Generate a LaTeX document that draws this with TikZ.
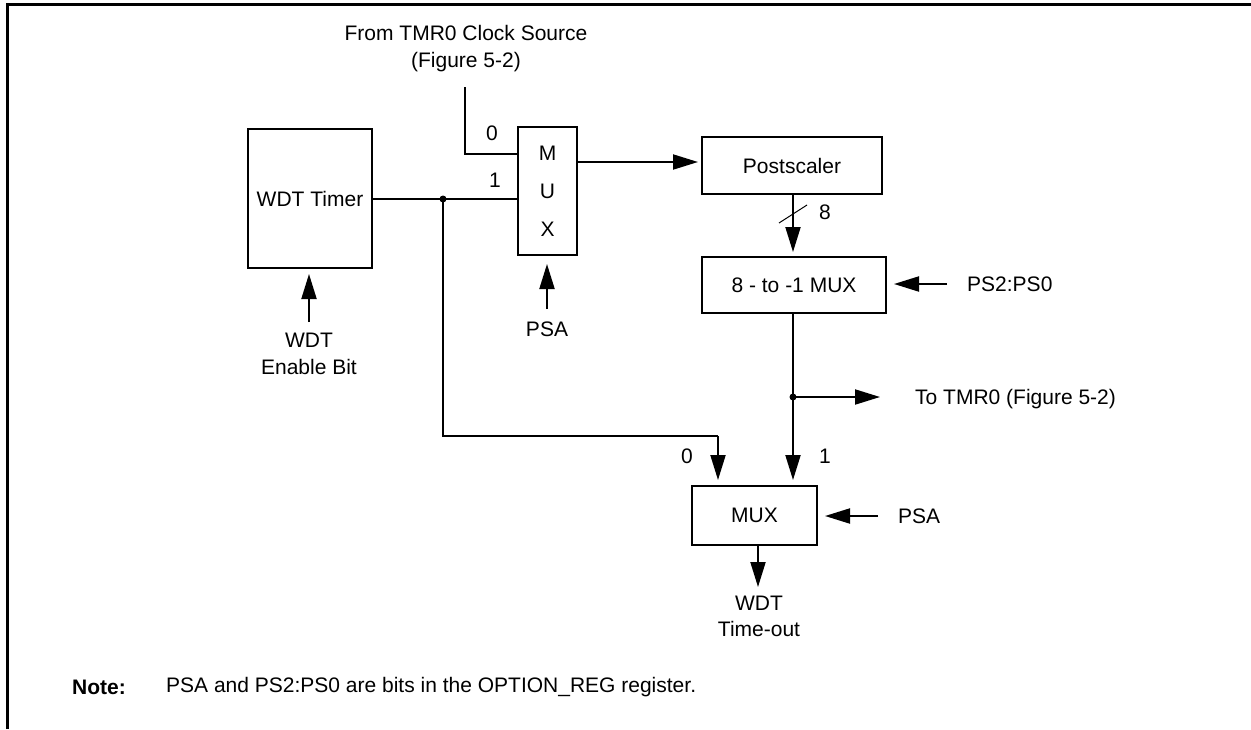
\documentclass[tikz,border=0pt]{standalone}
\usepackage{fontspec}
\setmainfont{Liberation Sans}
\usetikzlibrary{arrows.meta}
\begin{document}
\begin{tikzpicture}[x=1pt,y=-1pt,
  every node/.style={font=\fontsize{21}{26}\selectfont},
  blk/.style={draw,line width=2pt,inner sep=0pt,align=center},
  wire/.style={line width=2pt},
  arr/.style={line width=2pt,-{Triangle[length=25pt,width=15pt]}},
  lbl/.style={inner sep=0pt,align=center},
  dotc/.style={circle,fill,inner sep=0pt,minimum size=7pt}]
\useasboundingbox (0,0) rectangle (1251,729);
% frame
\draw[line width=3pt] (7,729) -- (7,4) -- (1251,4);
% blocks
\node[blk,minimum width=124pt,minimum height=139pt] (wdt) at (310,198.5) {WDT Timer};
\node[blk,minimum width=59pt,minimum height=128pt,font=\fontsize{21}{38}\selectfont] (mux1) at (547.5,191) {M\\U\\X};
\node[blk,minimum width=180pt,minimum height=57pt] (post) at (792,165.5) {Postscaler};
\node[blk,minimum width=184pt,minimum height=56pt] (mux8) at (794,285) {8 - to -1 MUX};
\node[blk,minimum width=125pt,minimum height=59pt] (mux2) at (754.5,515.5) {MUX};
% labels
\node[lbl,font=\fontsize{21}{27}\selectfont] (src) at (466,48.5) {From TMR0 Clock Source\\(Figure 5-2)};
\node[lbl,font=\fontsize{21}{27}\selectfont] (en) at (309,353.5) {WDT\\Enable Bit};
\node[lbl] (psa1) at (547,329) {PSA};
\node[lbl,anchor=west] (ps20) at (967,284) {PS2:PS0};
\node[lbl,anchor=west] (totmr) at (915,399) {To TMR0 (Figure 5-2)};
\node[lbl,anchor=west] (psa2) at (898,516) {PSA};
\node[lbl,font=\fontsize{21}{26}\selectfont] (wto) at (759,616) {WDT\\Time-out};
\node[lbl] (l0a) at (492,133) {0};
\node[lbl] (l1a) at (495,180) {1};
\node[lbl] (l8) at (825,212) {8};
\node[lbl] (l0b) at (687,456) {0};
\node[lbl] (l1b) at (825,456) {1};
\node[lbl,anchor=west,font=\bfseries\fontsize{21}{26}\selectfont] (note) at (72,687) {Note:};
\node[lbl,anchor=west] (notetxt) at (166,687) {PSA and PS2:PS0 are bits in the OPTION\_REG register.};
% coordinates
\coordinate (srcend) at (465,87);
\coordinate (m1in0) at (518,154);
\coordinate (j1) at (443,199);
\coordinate (c1) at (443,436);
\coordinate (c2) at (718,436);
\coordinate (m1out) at (577,162);
\coordinate (j2) at (793,397);
\coordinate (totip) at (880,397);
\coordinate (ps20t) at (947,284);
\coordinate (psa2t) at (878,516);
\coordinate (psa1t) at (547,309);
\coordinate (ent) at (309,322);
\coordinate (m2o) at (758,545);
\coordinate (m2tip) at (758,587);
% wires
\draw[wire] (srcend) |- (m1in0);
\draw[wire] (wdt.east) -- (mux1.west |- wdt.east);
\node[dotc] at (j1) {};
\draw[wire] (j1) -- (c1) -- (c2);
\draw[arr,shorten >=5pt] (c2) -- (mux2.north -| c2);
\draw[arr,shorten >=3pt] (m1out) -- (post.west |- m1out);
\draw[arr,shorten >=4pt] (post.south -| j2) -- (mux8.north -| j2);
\draw[line width=1pt] (779,223) -- (807,205);
\draw[arr,shorten >=7pt] (ps20t) -- (mux8.east |- ps20t);
\draw[arr,shorten >=5pt] (mux8.south -| j2) -- (mux2.north -| j2);
\node[dotc] at (j2) {};
\draw[arr] (j2) -- (totip);
\draw[arr,shorten >=7pt] (psa2t) -- (mux2.east |- psa2t);
\draw[arr] (m2o) -- (m2tip);
\draw[arr,shorten >=5pt] (ent) -- (wdt.south -| ent);
\draw[arr,shorten >=8pt] (psa1t) -- (mux1.south -| psa1t);
\end{tikzpicture}
\end{document}
